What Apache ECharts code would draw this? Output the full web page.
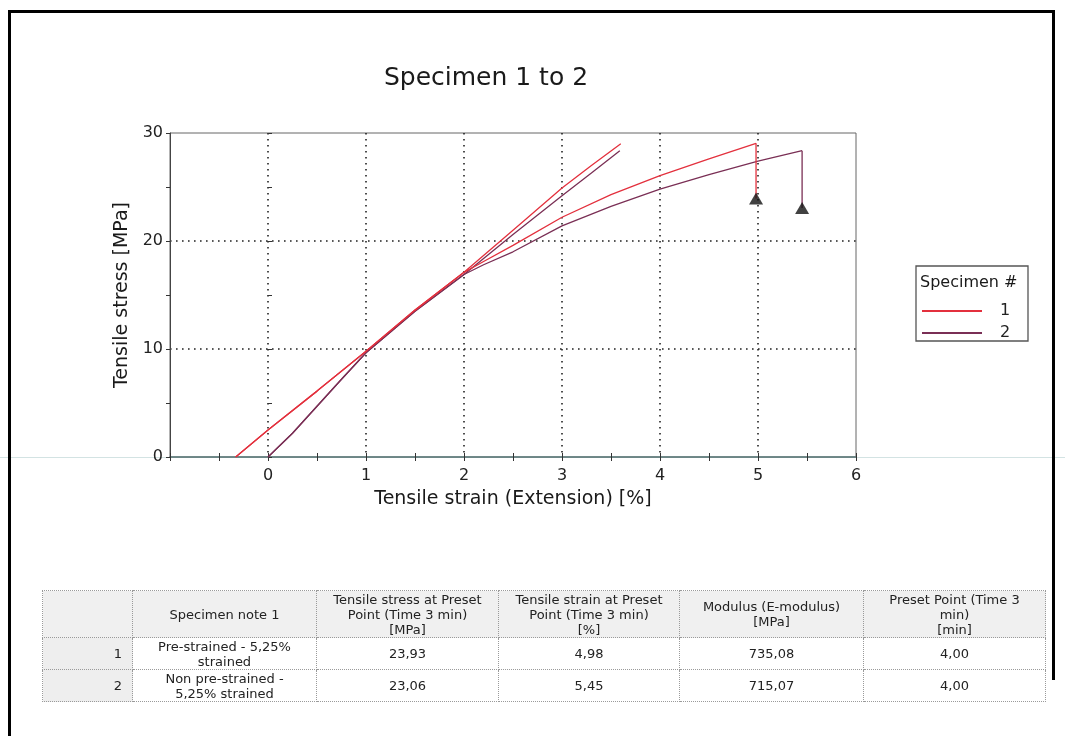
<!DOCTYPE html>
<html>
<head>
<meta charset="utf-8">
<script src="https://cdn.jsdelivr.net/npm/echarts@6/dist/echarts.min.js"></script>
<style>
  html, body { margin: 0; padding: 0; background: #fff; }
  #page { position: relative; width: 1065px; height: 736px; overflow: hidden; background: #fff;
          font-family: "DejaVu Sans", Verdana, sans-serif; }
  #chart { position: absolute; left: 0; top: 0; width: 1065px; height: 736px; }
  .bar { position: absolute; background: #000; }
  #specTable { position: absolute; left: 42px; top: 590px; border-collapse: collapse;
               font-family: "DejaVu Sans", Verdana, sans-serif; color: #222; table-layout: fixed; }
  #specTable th, #specTable td { border: 1px dotted #9a9a9a; text-align: center; vertical-align: middle;
               padding: 0 3px; white-space: pre-line; font-weight: normal; }
  #specTable th { background: #f0f0f0; height: 46px; font-size: 13px; line-height: 15px; }
  #specTable td { height: 31px; font-size: 13px; line-height: 15px; }
  #specTable td.idx { background: #eeeeee; text-align: right; padding-right: 10px; }
</style>
</head>
<body>
<div id="page">
  <div id="chart"></div>
  <div class="bar" style="left:8px;top:10px;width:3px;height:726px;"></div>
  <div class="bar" style="left:8px;top:10px;width:1047px;height:3px;"></div>
  <div class="bar" style="left:1052px;top:10px;width:3px;height:670px;"></div>
  <table id="specTable">
    <colgroup>
      <col style="width:90px"><col style="width:184px"><col style="width:182px">
      <col style="width:181px"><col style="width:184px"><col style="width:182px">
    </colgroup>
    <thead><tr id="headRow"></tr></thead>
    <tbody id="bodyRows"></tbody>
  </table>
</div>
<script>
// ---- Specimen curves: stress [MPa] against strain [%] ----
const specimenNames = ['1', '2'];
const specimenColors = ['#e3303d', '#7a2f55'];

// Specimen 1: shared lower part, then the steep and the flat branch
const s1LowerStrain = [-0.33, 0, 0.5, 1, 1.5, 2];
const s1LowerStress = [0, 2.49, 6.1, 9.8, 13.6, 17.1];
const s1SteepStrain = [2.5, 3, 3.3, 3.6];
const s1SteepStress = [21.0, 24.9, 27.0, 29.0];
const s1FlatStrain = [2.2, 2.5, 3, 3.5, 4, 4.5, 4.98];
const s1FlatStress = [18.1, 19.6, 22.2, 24.3, 26.06, 27.6, 29.05];

// Specimen 2
const s2LowerStrain = [0, 0.25, 0.5, 0.75, 1, 1.5, 2];
const s2LowerStress = [0, 2.2, 4.7, 7.2, 9.65, 13.5, 16.9];
const s2SteepStrain = [2.5, 3, 3.3, 3.59];
const s2SteepStress = [20.6, 24.2, 26.3, 28.36];
const s2FlatStrain = [2.2, 2.5, 3, 3.5, 4, 4.5, 5, 5.45];
const s2FlatStress = [17.8, 19.0, 21.4, 23.2, 24.8, 26.15, 27.4, 28.36];

// ---- Results table ----
const tableHeaders = ['', 'Specimen note 1',
  'Tensile stress at Preset\nPoint (Time 3 min)\n[MPa]',
  'Tensile strain at Preset\nPoint (Time 3 min)\n[%]',
  'Modulus (E-modulus)\n[MPa]',
  'Preset Point (Time 3\nmin)\n[min]'];
const specimenNotes = ['Pre-strained - 5,25%\nstrained', 'Non pre-strained -\n5,25% strained'];
const presetStress = [23.93, 23.06];
const presetStrain = [4.98, 5.45];
const modulus = [735.08, 715.07];
const presetTime = [4.00, 4.00];

const FONT = '"DejaVu Sans", Verdana, sans-serif';
const fmt = v => v.toFixed(2).replace('.', ',');

// build table
document.getElementById('headRow').innerHTML =
  tableHeaders.map(h => '<th>' + h + '</th>').join('');
document.getElementById('bodyRows').innerHTML = specimenNames.map((n, i) =>
  '<tr><td class="idx">' + n + '</td><td>' + specimenNotes[i] + '</td><td>' + fmt(presetStress[i]) +
  '</td><td>' + fmt(presetStrain[i]) + '</td><td>' + fmt(modulus[i]) + '</td><td>' + fmt(presetTime[i]) +
  '</td></tr>').join('');

const pairs = (xs, ys) => xs.map((x, i) => [x, ys[i]]);

const curveSets = [
  { lowX: s1LowerStrain, lowY: s1LowerStress, stX: s1SteepStrain, stY: s1SteepStress, flX: s1FlatStrain, flY: s1FlatStress },
  { lowX: s2LowerStrain, lowY: s2LowerStress, stX: s2SteepStrain, stY: s2SteepStress, flX: s2FlatStrain, flY: s2FlatStress }
];

function lineSeries(name, color, data, z) {
  return {
    name: name, type: 'line', data: data, symbol: 'none', smooth: false,
    lineStyle: { color: color, width: 1.3 }, itemStyle: { color: color }, z: z, animation: false
  };
}

const series = [];
// draw specimen 2 first so specimen 1 sits on top
[1, 0].forEach(i => {
  const c = curveSets[i];
  const name = specimenNames[i];
  const color = specimenColors[i];
  const z = 3 + (1 - i);
  series.push(lineSeries(name, color, pairs(c.lowX.concat(c.stX), c.lowY.concat(c.stY)), z));
  series.push(lineSeries(name, color, pairs(c.lowX.concat(c.flX), c.lowY.concat(c.flY)), z));
  // drop from peak to the preset point
  const peak = c.flY[c.flY.length - 1];
  series.push(lineSeries(name, color, [[presetStrain[i], peak], [presetStrain[i], presetStress[i]]], z));
});
series.push({
  name: 'Preset point', type: 'scatter', symbol: 'triangle', symbolSize: [14, 12],
  itemStyle: { color: '#111' }, z: 6, animation: false,
  data: pairs(presetStrain, presetStress)
});

const dotted = { color: '#222', width: 1.6, type: [1.6, 4.4] };
const tickStyle = { color: '#333', width: 1 };

const chart = echarts.init(document.getElementById('chart'), null, { renderer: 'canvas' });
chart.setOption({
  animation: false,
  backgroundColor: 'transparent',
  textStyle: { fontFamily: FONT },
  title: {
    text: 'Specimen 1 to 2', left: 486, top: 66, textAlign: 'center', padding: 0,
    textStyle: { fontFamily: FONT, fontSize: 25, fontWeight: 'normal', color: '#1a1a1a' }
  },
  grid: { left: 170, top: 133, width: 686, height: 324, show: true, borderColor: '#666', borderWidth: 1,
          backgroundColor: 'transparent' },
  legend: {
    orient: 'vertical', left: 917, top: 298, itemWidth: 60, itemHeight: 2, itemGap: 6, icon: 'rect',
    data: specimenNames, selectedMode: false,
    textStyle: { fontFamily: FONT, fontSize: 16, color: '#222', padding: [0, 0, 0, 13] }
  },
  xAxis: [{
    type: 'value', position: 'bottom', min: -1, max: 6, interval: 1,
    name: 'Tensile strain (Extension) [%]', nameLocation: 'middle', nameGap: 33,
    nameTextStyle: { fontFamily: FONT, fontSize: 19, color: '#1a1a1a' },
    axisLine: { show: true, onZero: false, lineStyle: { color: '#5c7c7c', width: 1.5 } },
    axisTick: { show: true, inside: false, length: 4, lineStyle: tickStyle },
    minorTick: { show: true, splitNumber: 2, length: 4, lineStyle: tickStyle },
    axisLabel: { fontFamily: FONT, fontSize: 16, color: '#222', margin: 11,
                 formatter: v => (v < 0 ? '' : String(v)) },
    splitLine: { show: true, showMinLine: false, showMaxLine: false, lineStyle: dotted }
  }, {
    type: 'value', position: 'bottom', min: -1, max: 6, interval: 1,
    axisLine: { show: false }, axisLabel: { show: false }, splitLine: { show: false },
    axisTick: { show: true, inside: true, length: 4, lineStyle: tickStyle },
    minorTick: { show: true, splitNumber: 2, length: 4, lineStyle: tickStyle }
  }],
  yAxis: [{
    type: 'value', position: 'left', min: 0, max: 30, interval: 10,
    name: 'Tensile stress [MPa]', nameLocation: 'middle', nameGap: 38, nameRotate: 90,
    nameTextStyle: { fontFamily: FONT, fontSize: 19, color: '#1a1a1a' },
    axisLine: { show: true, onZero: false, lineStyle: { color: '#444', width: 1 } },
    axisTick: { show: true, inside: false, length: 4, lineStyle: tickStyle },
    minorTick: { show: true, splitNumber: 2, length: 4, lineStyle: tickStyle },
    axisLabel: { fontFamily: FONT, fontSize: 16, color: '#222', margin: 7 },
    splitLine: { show: true, showMinLine: false, showMaxLine: false, lineStyle: dotted }
  }, {
    type: 'value', position: 'left', min: 0, max: 30, interval: 10,
    axisLine: { show: false }, axisLabel: { show: false }, splitLine: { show: false },
    axisTick: { show: true, inside: true, length: 4, lineStyle: tickStyle },
    minorTick: { show: true, splitNumber: 2, length: 4, lineStyle: tickStyle }
  }],
  graphic: [
    // faint rule running along the strain axis across the sheet
    { type: 'line', z: -1, shape: { x1: 0, y1: 457.5, x2: 1065, y2: 457.5 },
      style: { stroke: '#d3e3e3', lineWidth: 1 } },
    // legend frame and heading
    { type: 'rect', shape: { x: 916, y: 266, width: 112, height: 75 },
      style: { fill: 'none', stroke: '#555', lineWidth: 1.3 } },
    { type: 'text', x: 920, y: 283,
      style: { text: 'Specimen #', fontFamily: FONT, fontSize: 16, fill: '#1a1a1a', verticalAlign: 'middle' } }
  ],
  series: series
});
</script>
</body>
</html>
